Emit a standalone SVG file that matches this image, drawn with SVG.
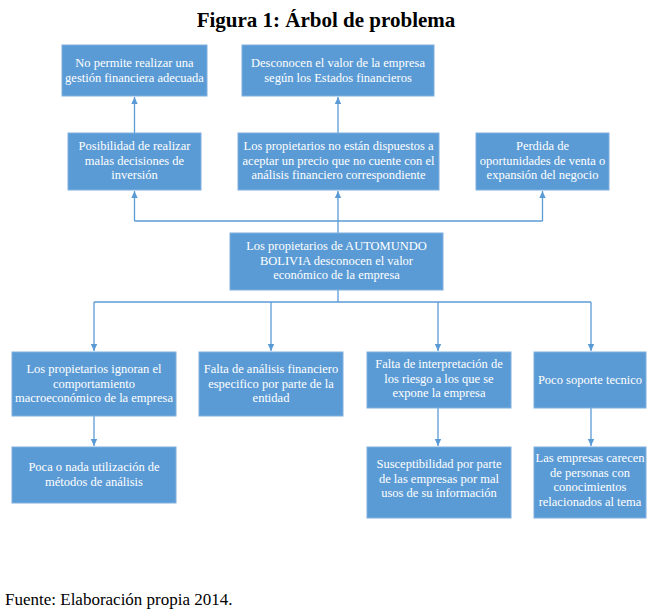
<svg xmlns="http://www.w3.org/2000/svg" width="655" height="614" viewBox="0 0 655 614">
<defs>
<marker id="arr" markerUnits="userSpaceOnUse" markerWidth="8" markerHeight="8" refX="7" refY="4" orient="auto">
<path d="M0,0.8 L7,4 L0,7.2 Z" fill="#5b9bd5"/>
</marker>
<style>
.box{fill:#5b9bd5;stroke:#7fb0de;stroke-width:1}
.t{font-family:'Liberation Serif','Times New Roman',serif;font-size:12.5px;fill:#ffffff;text-anchor:middle}
.c{fill:none;stroke:#5b9bd5;stroke-width:1.3}
.a{marker-end:url(#arr)}
</style>
</defs>
<rect width="655" height="614" fill="#ffffff"/>
<text x="326" y="27" font-family="'Liberation Serif','Times New Roman',serif" font-size="21" font-weight="bold" text-anchor="middle" fill="#000">Figura 1: Árbol de problema</text>

<g id="connectors">
<path class="c a" d="M134.5,133 V97"/>
<path class="c a" d="M338,133 V97"/>
<path class="c a" d="M338,233 V191"/>
<path class="c" d="M134.5,221 H542.5"/>
<path class="c a" d="M134.5,221 V191"/>
<path class="c a" d="M542.5,221 V191"/>
<path class="c" d="M338,290 V302"/>
<path class="c" d="M94,302 H591"/>
<path class="c a" d="M94,302 V351"/>
<path class="c a" d="M271,302 V351"/>
<path class="c a" d="M438,302 V351"/>
<path class="c a" d="M591,302 V351"/>
<path class="c a" d="M94,416 V446"/>
<path class="c a" d="M438,408 V446"/>
<path class="c a" d="M591,408 V446"/>
</g>

<g font-family="'Liberation Serif','Times New Roman',serif" font-size="12.5">
<g id="nA">
<rect class="box" x="62" y="45" width="145" height="51"/>
<text class="t" x="134.5" y="67">No permite realizar una</text>
<text class="t" x="134.5" y="81.5">gestión financiera adecuada</text>
</g>
<g id="nB">
<rect class="box" x="242" y="45" width="192" height="51"/>
<text class="t" x="338" y="67">Desconocen el valor de la empresa</text>
<text class="t" x="338" y="81.5">según los Estados financieros</text>
</g>
<g id="nC">
<rect class="box" x="68" y="133" width="133" height="57"/>
<text class="t" x="134.5" y="150">Posibilidad de realizar</text>
<text class="t" x="134.5" y="164.5">malas decisiones de</text>
<text class="t" x="134.5" y="179">inversión</text>
</g>
<g id="nD">
<rect class="box" x="238" y="133" width="201" height="57"/>
<text class="t" x="338.5" y="150">Los propietarios no están dispuestos a</text>
<text class="t" x="338.5" y="164.5">aceptar un precio que no cuente con el</text>
<text class="t" x="338.5" y="179">análisis financiero correspondiente</text>
</g>
<g id="nE">
<rect class="box" x="476" y="133" width="133" height="57"/>
<text class="t" x="542.5" y="150">Perdida de</text>
<text class="t" x="542.5" y="164.5">oportunidades de venta o</text>
<text class="t" x="542.5" y="179">expansión del negocio</text>
</g>
<g id="nM">
<rect class="box" x="230" y="233" width="213" height="57"/>
<text class="t" x="336.5" y="250">Los propietarios de AUTOMUNDO</text>
<text class="t" x="336.5" y="264.5">BOLIVIA desconocen el valor</text>
<text class="t" x="336.5" y="279">económico de la empresa</text>
</g>
<g id="nF">
<rect class="box" x="12" y="352" width="164" height="64"/>
<text class="t" x="94" y="373">Los propietarios ignoran el</text>
<text class="t" x="94" y="387.5">comportamiento</text>
<text class="t" x="94" y="402">macroeconómico de la empresa</text>
</g>
<g id="nG">
<rect class="box" x="199" y="352" width="144" height="64"/>
<text class="t" x="271" y="373">Falta de análisis financiero</text>
<text class="t" x="271" y="387.5">especifico por parte de la</text>
<text class="t" x="271" y="402">entidad</text>
</g>
<g id="nH">
<rect class="box" x="367" y="352" width="144" height="56"/>
<text class="t" x="439" y="368">Falta de interpretación de</text>
<text class="t" x="439" y="382.5">los riesgo a los que se</text>
<text class="t" x="439" y="397">expone la empresa</text>
</g>
<g id="nI">
<rect class="box" x="534" y="352" width="112" height="56"/>
<text class="t" x="590" y="384">Poco soporte tecnico</text>
</g>
<g id="nJ">
<rect class="box" x="12" y="447" width="164" height="56"/>
<text class="t" x="94" y="471">Poca o nada utilización de</text>
<text class="t" x="94" y="485.5">métodos de análisis</text>
</g>
<g id="nK">
<rect class="box" x="367" y="447" width="144" height="71"/>
<text class="t" x="439" y="468">Susceptibilidad por parte</text>
<text class="t" x="439" y="482.5">de las empresas por mal</text>
<text class="t" x="439" y="497">usos de su información</text>
</g>
<g id="nL">
<rect class="box" x="534" y="447" width="112" height="71"/>
<text class="t" x="590" y="462">Las empresas carecen</text>
<text class="t" x="590" y="476.5">de personas con</text>
<text class="t" x="590" y="491">conocimientos</text>
<text class="t" x="590" y="505.5">relacionados al tema</text>
</g>
</g>

<text x="5" y="605" font-family="'Liberation Serif','Times New Roman',serif" font-size="17" fill="#000">Fuente: Elaboración propia 2014.</text>
</svg>
